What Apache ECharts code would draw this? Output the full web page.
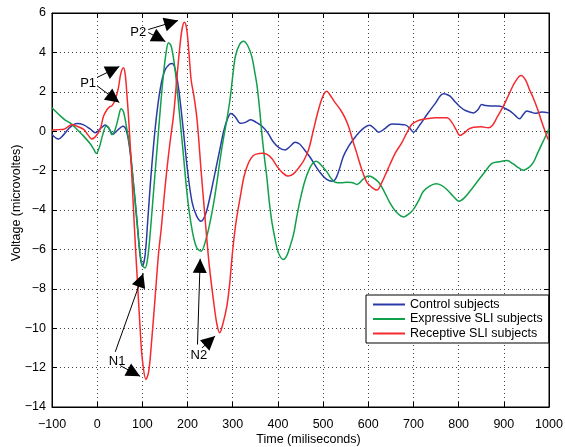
<!DOCTYPE html>
<html><head><meta charset="utf-8">
<script src="https://cdn.jsdelivr.net/npm/echarts@6/dist/echarts.min.js"></script>
<style>html,body{margin:0;padding:0;background:#fff}#c{width:565px;height:447px}</style>
</head><body><div id="c"></div>
<script>
// ---- Data (time in ms, voltage in microvolts) ----
const controlT = [-100,-86,-75,-60,-45,-30,-15,-4,8,18,27,35,45,57,65,72,80,88,95,100,106,112,120,130,140,150,160,166,172,180,190,200,210,220,230,240,250,260,270,280,288,296,305,317,328,340,352,365,378,390,403,416,428,438,448,460,472,486,497,508,520,527,535,545,557,567,580,592,603,613,623,635,652,668,682,692,700,715,730,748,766,772,781,792,803,815,833,843,851,860,875,892,903,914,925,935,943,951,960,969,984,1000];
const controlV = [-0.17,-0.4,-0.2,0.2,0.39,0.32,0.1,-0.08,0.15,0.32,0.1,-0.15,0.05,0.25,0.0,-0.9,-2.6,-4.5,-6.3,-6.85,-6.3,-4.5,-2.0,0.5,2.2,3.1,3.4,3.44,3.2,2.2,0.2,-2.0,-3.6,-4.3,-4.57,-4.2,-3.3,-2.2,-1.1,0.0,0.6,0.9,0.75,0.4,0.45,0.58,0.45,0.25,-0.1,-0.55,-0.85,-0.95,-0.75,-0.56,-0.65,-0.98,-1.35,-1.86,-2.2,-2.45,-2.54,-2.45,-2.0,-1.27,-0.75,-0.42,-0.05,0.2,0.3,0.15,-0.05,0.1,0.37,0.35,0.32,0.15,-0.05,0.35,0.85,1.4,1.9,1.88,1.78,1.5,1.24,1.05,0.93,1.1,1.36,1.3,1.28,1.27,1.15,1.02,0.8,0.63,0.85,1.02,0.97,0.91,0.97,0.93];

const expressiveT = [-100,-85,-70,-60,-45,-30,-15,-8,-2,5,12,20,25,33,40,47,53,58,65,73,80,88,95,100,106,112,118,125,135,145,152,158,164,172,180,190,200,210,220,230,240,250,258,265,272,280,287,294,300,306,315,324,333,342,348,354,360,365,370,376,381,387,394,401,412,420,427,435,442,450,460,470,478,485,495,508,518,527,540,553,563,575,588,600,610,623,635,648,662,678,690,700,712,722,735,750,762,774,788,801,812,825,840,857,873,890,907,920,932,943,955,965,975,989,1000];
const expressiveV = [1.19,0.85,0.55,0.42,0.1,-0.25,-0.65,-0.9,-1.13,-0.8,-0.2,0.25,0.2,-0.17,0.1,0.7,1.14,1.0,0.2,-0.93,-2.6,-4.6,-6.2,-6.8,-6.94,-6.4,-5.0,-3.0,-0.2,2.5,3.9,4.49,4.3,3.2,1.4,-1.0,-3.4,-5.0,-5.9,-6.09,-5.55,-4.6,-3.63,-2.6,-1.44,-0.3,0.59,1.61,2.8,3.81,4.4,4.57,4.35,3.81,3.1,2.28,1.0,-0.25,-1.3,-2.45,-3.6,-4.65,-5.5,-6.17,-6.51,-6.3,-5.84,-5.2,-4.31,-3.4,-2.5,-1.9,-1.6,-1.52,-1.7,-2.05,-2.4,-2.59,-2.62,-2.59,-2.6,-2.7,-2.45,-2.28,-2.35,-2.59,-3.05,-3.64,-4.1,-4.35,-4.2,-3.97,-3.5,-3.05,-2.8,-2.67,-2.75,-2.96,-3.3,-3.55,-3.4,-3.05,-2.6,-2.1,-1.65,-1.55,-1.49,-1.65,-1.85,-1.98,-1.85,-1.6,-1.1,-0.42,0.12];

const receptiveT = [-100,-85,-74,-65,-56,-45,-30,-20,-12,-5,2,8,14,22,28,33,40,47,52,58,62,66,70,75,80,85,90,95,100,108,114,120,128,136,142,147,154,162,169,176,183,188,193,198,203,208,214,221,230,239,248,258,265,271,278,287,293,298,302,308,317,325,335,345,354,365,376,387,398,410,423,435,446,457,468,477,486,495,502,508,515,525,538,548,557,566,575,585,597,608,619,630,640,648,660,674,685,696,707,719,735,748,762,774,785,795,803,812,822,833,850,866,875,885,899,912,925,938,948,957,965,975,985,998];
const receptiveV = [0.05,0.08,0.1,0.22,0.34,0.25,0.09,-0.2,-0.4,-0.3,-0.1,0.2,0.76,1.1,1.25,1.3,1.61,2.2,2.9,3.22,2.9,1.8,0.5,-1.5,-3.8,-6.0,-8.0,-10.0,-11.6,-12.6,-12.2,-10.8,-8.5,-6.17,-4.9,-3.63,-2.0,-0.42,0.8,2.6,4.3,5.2,5.53,5.2,4.0,2.6,1.8,0.59,-2.0,-4.48,-6.8,-8.7,-9.8,-10.23,-9.8,-8.88,-7.8,-6.51,-5.6,-4.5,-3.3,-2.3,-1.6,-1.25,-1.15,-1.12,-1.18,-1.4,-1.78,-2.1,-2.28,-2.15,-1.86,-1.5,-0.93,-0.1,0.76,1.5,1.9,2.03,1.85,1.5,1.1,0.7,0.2,-0.5,-1.15,-1.9,-2.6,-2.85,-2.99,-2.6,-2.1,-1.69,-1.1,-0.59,-0.1,0.34,0.5,0.59,0.65,0.68,0.68,0.68,0.45,0.05,-0.22,-0.1,0.1,0.2,0.22,0.17,0.3,0.7,1.27,1.9,2.5,2.83,2.6,2.1,1.7,1.1,0.4,-0.42];

const seriesNames = ['Control subjects','Expressive SLI subjects','Receptive SLI subjects'];

// annotation labels and arrows (data coordinates; arrow "to" = arrow tip)
const annotationLabels = ['P1','P2','N1','N2'];
const annotationLabelT = [-20, 91, 44, 225];
const annotationLabelV = [2.45, 5.0, -11.7, -11.4];
const arrowFromT = [0, 0, 113, 113, 40, 51, 222, 232];
const arrowFromV = [2.73, 2.3, 5.16, 5.01, -11.2, -11.9, -10.83, -11.0];
const arrowToT   = [49, 49, 179, 151, 102, 95, 228, 261];
const arrowToV   = [3.28, 1.46, 5.62, 4.55, -7.22, -12.44, -6.48, -10.4];

const xTicks = {min: -100, max: 1000, interval: 100};
const yTicks = {min: -14, max: 6, interval: 2};

// ---- Chart ----
const pairs = (T, V) => T.map((t, i) => [t, V[i]]);
const minus = v => String(v).replace('-', '\u2212');
const font = 'Liberation Sans, Arial, sans-serif';
const gridLine = {show: true, lineStyle: {color: '#444', width: 1, type: [1, 3]}};
const headSize = 14;

const chart = echarts.init(document.getElementById('c'), null, {renderer: 'canvas'});
const lineSeries = (name, T, V, color) => ({
  name, type: 'line', data: pairs(T, V), symbol: 'none', showSymbol: false,
  smooth: 0.35, lineStyle: {color, width: 1.5}, itemStyle: {color}, z: 3
});

chart.setOption({
  animation: false,
  backgroundColor: '#fff',
  textStyle: {fontFamily: font},
  grid: {left: 52, right: 16, top: 13, bottom: 40, containLabel: false, outerBoundsMode: 'none',
         show: true, borderColor: '#000', borderWidth: 1, backgroundColor: '#fff'},
  legend: {
    data: seriesNames, orient: 'vertical', left: 366, top: 295,
    backgroundColor: '#fff', borderColor: '#000', borderWidth: 1, borderRadius: 0,
    padding: [3, 6, 3, 7], itemGap: 1.5, itemWidth: 32, itemHeight: 2, icon: 'rect',
    selectedMode: false,
    textStyle: {fontSize: 12.5, color: '#000', fontFamily: font}
  },
  xAxis: [{
    type: 'value', min: xTicks.min, max: xTicks.max, interval: xTicks.interval,
    name: 'Time (miliseconds)', nameLocation: 'middle', nameGap: 26, nameMoveOverlap: false,
    nameTextStyle: {fontSize: 12.5, color: '#000', padding: [0, 0, 0, 16]},
    axisLine: {show: true, onZero: false, lineStyle: {color: '#000'}},
    axisTick: {show: true, inside: true, length: 5, lineStyle: {color: '#000'}},
    axisLabel: {color: '#000', fontSize: 12.5, margin: 11, formatter: minus},
    splitLine: gridLine
  }, {
    type: 'value', position: 'top', min: xTicks.min, max: xTicks.max, interval: xTicks.interval,
    axisLine: {show: true, onZero: false, lineStyle: {color: '#000'}},
    axisTick: {show: true, inside: true, length: 5, lineStyle: {color: '#000'}},
    axisLabel: {show: false}, splitLine: {show: false}
  }],
  yAxis: [{
    type: 'value', min: yTicks.min, max: yTicks.max, interval: yTicks.interval,
    name: 'Voltage (microvoltes)', nameLocation: 'middle', nameGap: 29, nameRotate: 90, nameMoveOverlap: false,
    nameTextStyle: {fontSize: 12.5, color: '#000', padding: [0, 0, 0, 14]},
    axisLine: {show: true, onZero: false, lineStyle: {color: '#000'}},
    axisTick: {show: true, inside: true, length: 5, lineStyle: {color: '#000'}},
    axisLabel: {color: '#000', fontSize: 12.5, margin: 6, formatter: minus},
    splitLine: gridLine
  }, {
    type: 'value', position: 'right', min: yTicks.min, max: yTicks.max, interval: yTicks.interval,
    axisLine: {show: true, onZero: false, lineStyle: {color: '#000'}},
    axisTick: {show: true, inside: true, length: 5, lineStyle: {color: '#000'}},
    axisLabel: {show: false}, splitLine: {show: false}
  }],
  series: [
    lineSeries(seriesNames[0], controlT, controlV, '#2a3aa6'),
    lineSeries(seriesNames[1], expressiveT, expressiveV, '#10a04a'),
    lineSeries(seriesNames[2], receptiveT, receptiveV, '#f42a2e'),
    {
      name: 'annotations', type: 'scatter', symbolSize: 0, z: 5, silent: true,
      itemStyle: {color: '#000', opacity: 1},
      data: annotationLabels.map((n, i) => [annotationLabelT[i], annotationLabelV[i], n]),
      label: {show: true, position: 'inside', formatter: p => p.data[2], color: '#000', fontSize: 13, fontFamily: font},
      markLine: {
        silent: true, animation: false,
        symbol: ['none', 'triangle'], symbolSize: headSize,
        symbolOffset: [0, [0, headSize / 2]],
        label: {show: false},
        lineStyle: {color: '#000', width: 1, type: 'solid', opacity: 1},
        itemStyle: {color: '#000', opacity: 1},
        emphasis: {disabled: true},
        data: arrowFromT.map((t, i) => [
          {coord: [t, arrowFromV[i]]},
          {coord: [arrowToT[i], arrowToV[i]]}
        ])
      }
    }
  ]
});
</script>
</body></html>
